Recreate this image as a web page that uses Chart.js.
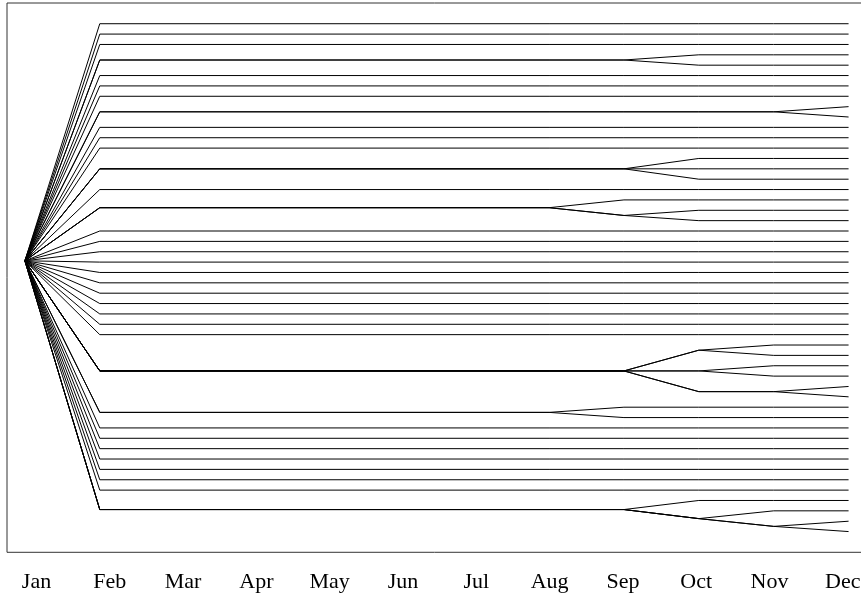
<!DOCTYPE html>
<html>
<head>
<meta charset="utf-8">
<script src="https://cdn.jsdelivr.net/npm/chart.js@4.4.1/dist/chart.umd.min.js"></script>
<style>
  html, body { margin: 0; padding: 0; background: #fff; overflow: hidden; }
  canvas { display: block; }
</style>
</head>
<body>
<canvas id="treeChart" width="861" height="599"></canvas>
<script>
const months = ["Jan", "Feb", "Mar", "Apr", "May", "Jun", "Jul", "Aug", "Sep", "Oct", "Nov", "Dec"];

// every line starts at the same January value (row 0 = top line)
const janValue = 22.875;
// level each line holds from Feb through Aug
const febToAug = [0, 1, 2, 3.5, 3.5, 5, 6, 7, 8.5, 8.5, 10, 11, 12, 14, 14, 14, 16, 17.75, 17.75, 17.75,
    20, 21, 22, 23, 24, 25, 26, 27, 28, 29, 30, 33.5, 33.5, 33.5, 33.5, 33.5, 33.5, 37.5, 37.5,
    39, 40, 41, 42, 43, 44, 45, 46.875, 46.875, 46.875, 46.875];
const sepValues = [0, 1, 2, 3.5, 3.5, 5, 6, 7, 8.5, 8.5, 10, 11, 12, 14, 14, 14, 16, 17, 18.5, 18.5,
    20, 21, 22, 23, 24, 25, 26, 27, 28, 29, 30, 33.5, 33.5, 33.5, 33.5, 33.5, 33.5, 37, 38,
    39, 40, 41, 42, 43, 44, 45, 46.875, 46.875, 46.875, 46.875];
const octValues = [0, 1, 2, 3, 4, 5, 6, 7, 8.5, 8.5, 10, 11, 12, 13, 14, 15, 16, 17, 18, 19,
    20, 21, 22, 23, 24, 25, 26, 27, 28, 29, 30, 31.5, 31.5, 33.5, 33.5, 35.5, 35.5, 37, 38,
    39, 40, 41, 42, 43, 44, 45, 46, 47.75, 47.75, 47.75];
const novValues = [0, 1, 2, 3, 4, 5, 6, 7, 8.5, 8.5, 10, 11, 12, 13, 14, 15, 16, 17, 18, 19,
    20, 21, 22, 23, 24, 25, 26, 27, 28, 29, 30, 31, 32, 33, 34, 35.5, 35.5, 37, 38,
    39, 40, 41, 42, 43, 44, 45, 46, 47, 48.5, 48.5];
const decValues = [0, 1, 2, 3, 4, 5, 6, 7, 8, 9, 10, 11, 12, 13, 14, 15, 16, 17, 18, 19,
    20, 21, 22, 23, 24, 25, 26, 27, 28, 29, 30, 31, 32, 33, 34, 35, 36, 37, 38,
    39, 40, 41, 42, 43, 44, 45, 46, 47, 48, 49];

// one line per row; months between Feb and Aug are flat so only the corners are needed
const datasets = decValues.map((_, i) => ({
    data: [
        { x: 0, y: janValue },
        { x: 1, y: febToAug[i] },
        { x: 7, y: febToAug[i] },
        { x: 8, y: sepValues[i] },
        { x: 9, y: octValues[i] },
        { x: 10, y: novValues[i] },
        { x: 11, y: decValues[i] }
    ],
    borderColor: "#000",
    borderWidth: 1,
    pointRadius: 0,
    fill: false,
    tension: 0
}));

// frame on top, left and bottom; the right side sits past the page edge
const frame = {
    id: "frame",
    afterDraw(chart) {
        const { ctx, chartArea: a } = chart;
        ctx.save();
        ctx.strokeStyle = "#333";
        ctx.lineWidth = 1;
        ctx.beginPath();
        ctx.moveTo(a.right + 5, a.top);
        ctx.lineTo(a.left, a.top);
        ctx.lineTo(a.left, a.bottom);
        ctx.lineTo(a.right + 5, a.bottom);
        ctx.stroke();
        ctx.restore();
    }
};

const ctx = document.getElementById("treeChart").getContext("2d");
new Chart(ctx, {
    type: "line",
    data: { datasets: datasets },
    options: {
        responsive: false,
        animation: false,
        devicePixelRatio: 1,
        layout: { padding: { left: 7, top: 3, right: 0, bottom: 0 } },
        plugins: { legend: { display: false }, tooltip: { enabled: false } },
        scales: {
            x: {
                type: "linear",
                display: false,
                min: -0.239,
                max: 11.166
            },
            months: {
                type: "linear",
                position: "bottom",
                min: -0.4025,
                max: 11.248,
                grid: { display: false, drawTicks: false },
                border: { display: false },
                afterBuildTicks: (scale) => {
                    scale.ticks = months.map((m, i) => ({ value: i }));
                },
                afterFit: (scale) => {
                    scale.height = 46.7;
                    scale.paddingLeft = 0;
                    scale.paddingRight = 0;
                },
                ticks: {
                    autoSkip: false,
                    maxRotation: 0,
                    padding: 16.5,
                    color: "#000",
                    font: { family: "'Liberation Serif', 'Times New Roman', serif", size: 22 },
                    callback: (value) => months[value]
                }
            },
            y: {
                type: "linear",
                display: false,
                reverse: true,
                min: -2,
                max: 51
            }
        }
    },
    plugins: [frame]
});
</script>
</body>
</html>
